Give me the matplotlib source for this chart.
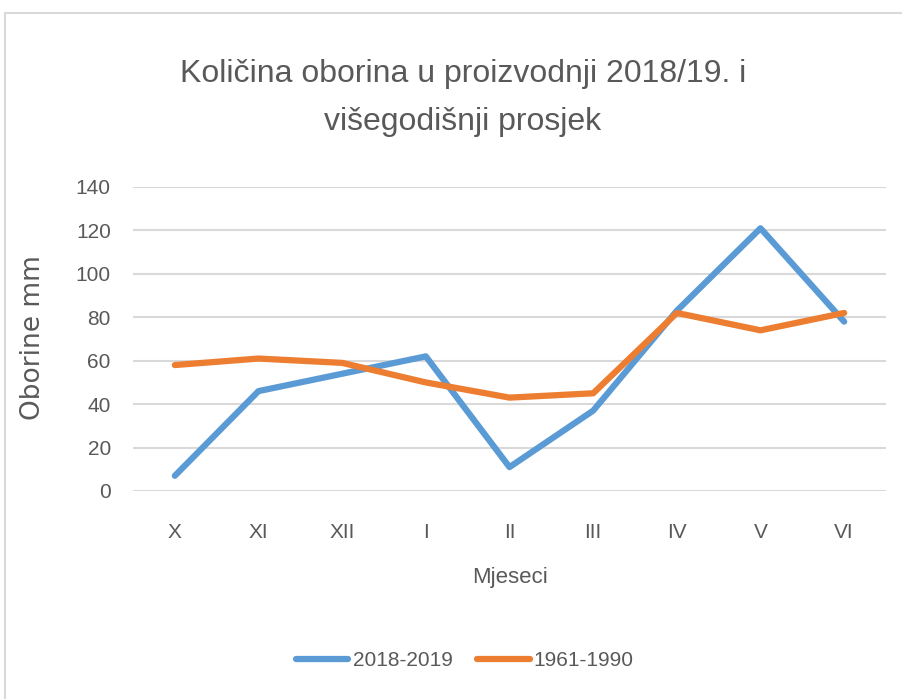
import numpy as np
import matplotlib
matplotlib.use('Agg')
import matplotlib.pyplot as plt
from matplotlib.patches import Rectangle
from matplotlib.lines import Line2D

plt.rcParams['font.family'] = ['Liberation Sans', 'DejaVu Sans']

# podaci
mjeseci = ['X', 'XI', 'XII', 'I', 'II', 'III', 'IV', 'V', 'VI']
oborine_2018_2019 = [7, 46, 54, 62, 11, 37, 83, 121, 78]
oborine_1961_1990 = [58, 61, 59, 50, 43, 45, 82, 74, 82]
y_ticks = [0, 20, 40, 60, 80, 100, 120, 140]

plava = '#5B9BD5'
narancasta = '#ED7D31'
siva = '#595959'

fig = plt.figure(figsize=(9.02, 6.99), dpi=100)

# okvir grafikona
fig.patches.append(Rectangle((5 / 902, -0.1), 1.2, 1 - 13 / 699 + 0.1, transform=fig.transFigure,
                             fill=False, edgecolor='#D9D9D9', linewidth=1.5))

ax = fig.add_axes([133 / 902, 1 - 491 / 699, (886 - 133) / 902, (491 - 187) / 699])
x = np.arange(len(mjeseci))
ax.plot(x, oborine_2018_2019, color=plava, linewidth=4.5, solid_capstyle='round', zorder=3)
ax.plot(x, oborine_1961_1990, color=narancasta, linewidth=4.5, solid_capstyle='round', zorder=4)

ax.set_xlim(-0.5, len(mjeseci) - 0.5)
ax.set_ylim(0, 140)
ax.set_yticks(y_ticks)
ax.set_xticks(x)
ax.set_xticklabels(mjeseci)
ax.grid(axis='y', color='#D9D9D9', linewidth=1.5)
ax.set_axisbelow(True)
for s in ax.spines.values():
    s.set_visible(False)
ax.tick_params(length=0, labelsize=15, colors=siva)
ax.tick_params(axis='y', pad=16)
ax.tick_params(axis='x', pad=23)

# naslov
fig.text(463 / 902, 1 - 98 / 699, 'Količina oborina u proizvodnji 2018/19. i\nvišegodišnji prosjek',
         ha='center', va='center', fontsize=23, color=siva, linespacing=1.75)

# oznake osi
fig.text(33 / 902, 1 - 338 / 699, 'Oborine mm', rotation=90, ha='center', va='center',
         fontsize=19, color=siva, family=['DejaVu Sans'])
fig.text(510 / 902, 1 - 577 / 699, 'Mjeseci', ha='center', va='center', fontsize=16, color=siva)

# legenda
handles = [Line2D([], [], color=plava, linewidth=4.5, solid_capstyle='round'),
           Line2D([], [], color=narancasta, linewidth=4.5, solid_capstyle='round')]
fig.legend(handles, ['2018-2019', '1961-1990'], loc='center', bbox_to_anchor=(465 / 902, 1 - 661 / 699),
           ncol=2, frameon=False, fontsize=15, labelcolor=siva, handlelength=2.5,
           handletextpad=0.2, columnspacing=1.2)

fig.savefig('out.png', dpi=100)
